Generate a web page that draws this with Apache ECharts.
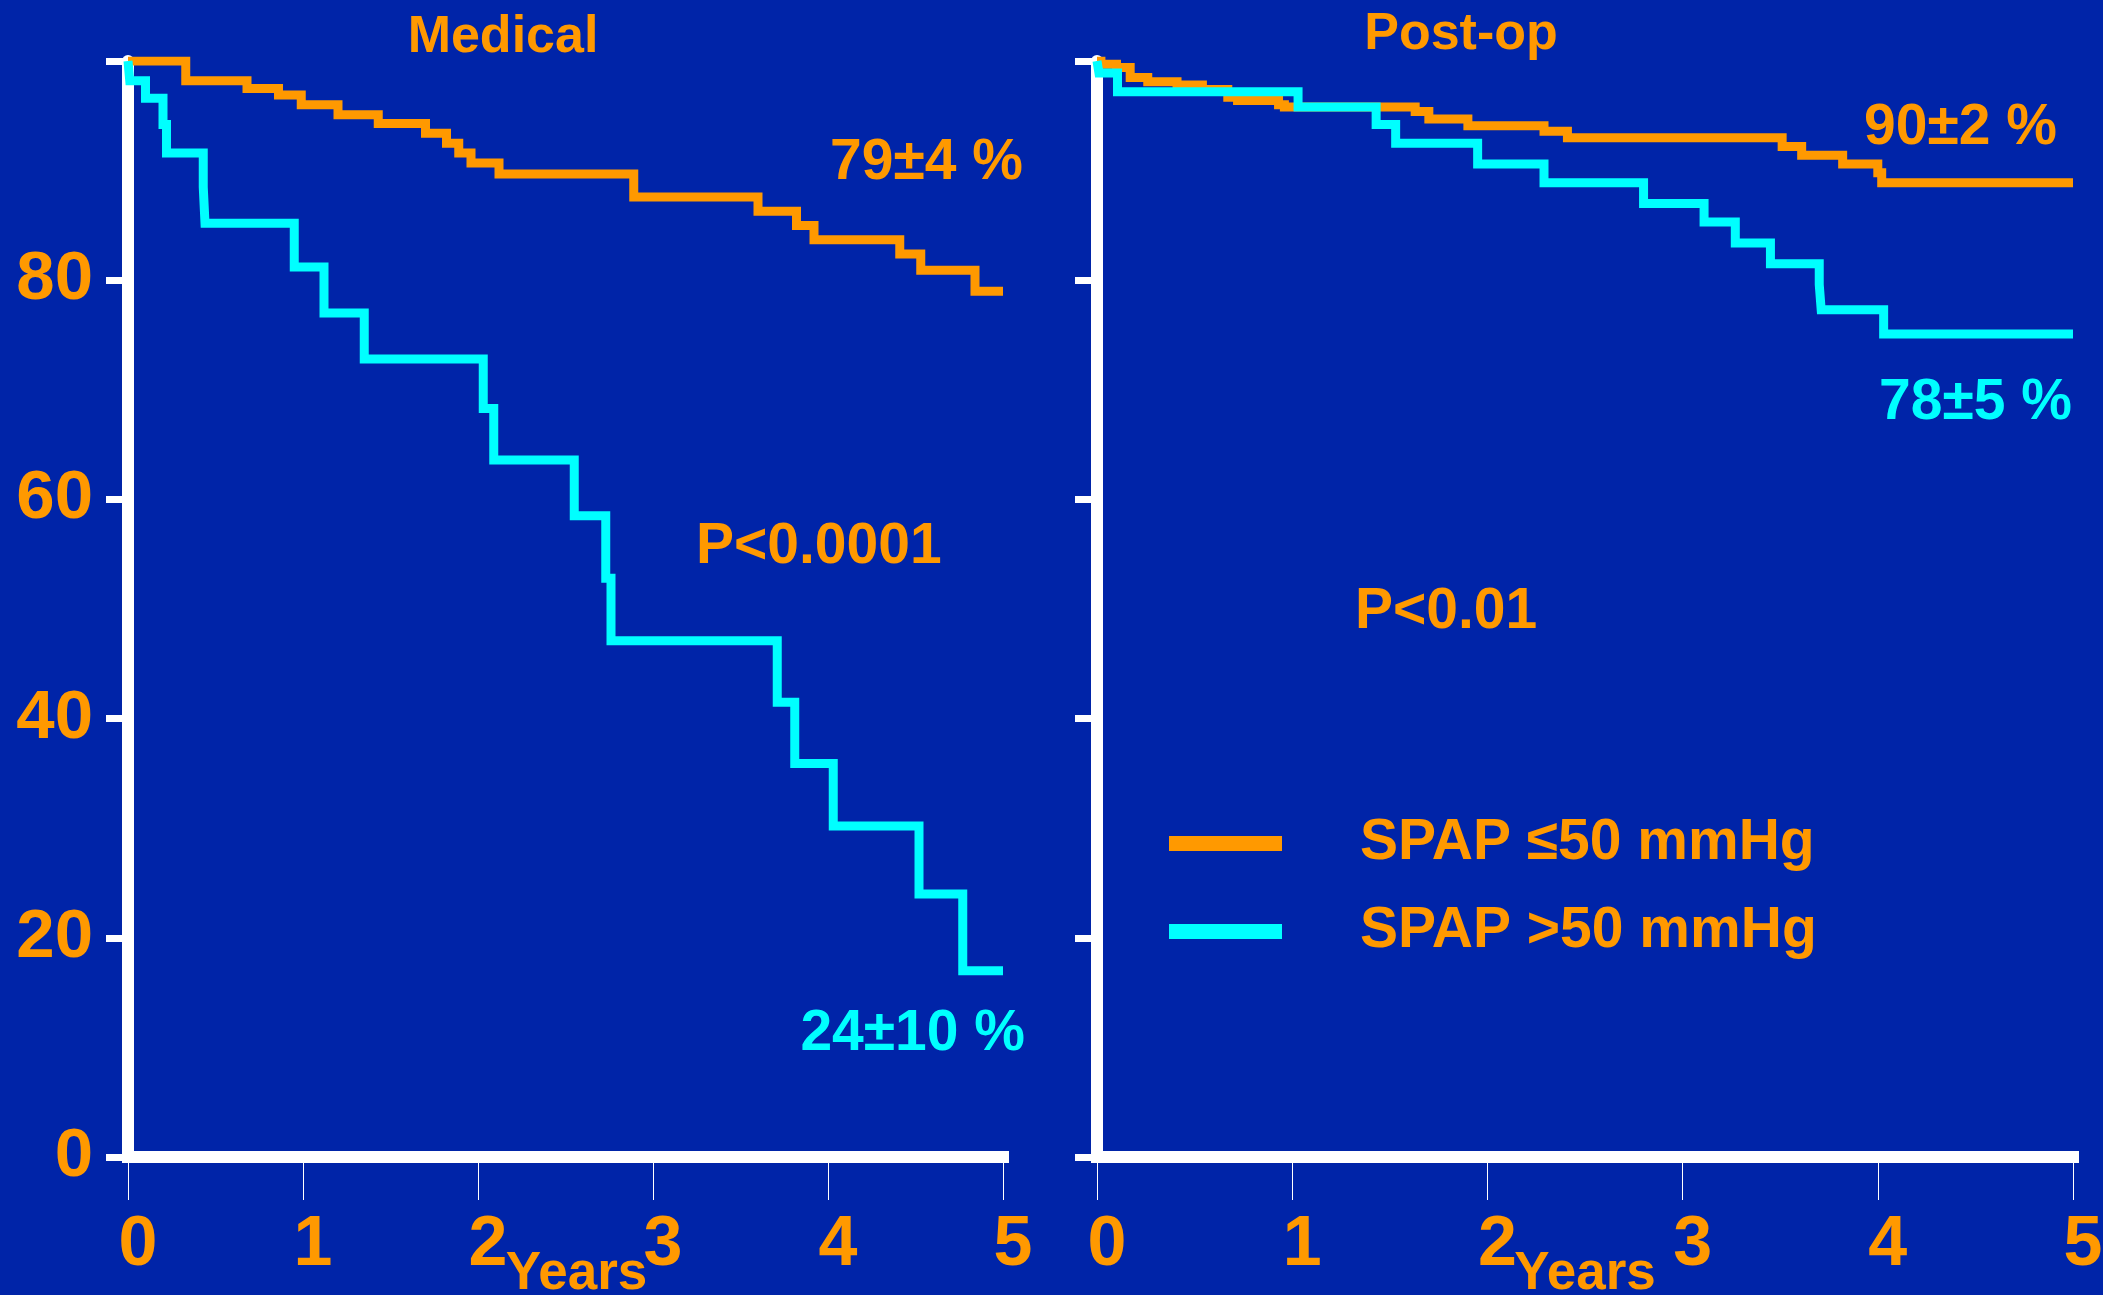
<!DOCTYPE html>
<html>
<head>
<meta charset="utf-8">
<script src="https://cdn.jsdelivr.net/npm/echarts@6/dist/echarts.min.js"></script>
<style>
  html, body { margin: 0; padding: 0; background: #0024A8; }
  #chart { width: 2103px; height: 1295px; }
</style>
</head>
<body>
<div id="chart"></div>
<script>
// Kaplan-Meier survival by systolic pulmonary artery pressure, medical vs post-op
const panelTitles = ['Medical', 'Post-op'];
const groupNames = ['SPAP ≤50 mmHg', 'SPAP >50 mmHg'];
const yearTicks = [0, 1, 2, 3, 4, 5];
const survivalTicks = [0, 20, 40, 60, 80, 100];

// [years, survival %] at each event time
const medicalLow = [
  [0, 100], [0.33, 98.2], [0.68, 97.5], [0.86, 96.9], [0.99, 96.0], [1.20, 95.1],
  [1.43, 94.3], [1.70, 93.4], [1.82, 92.5], [1.89, 91.6], [1.96, 90.7], [2.12, 89.7],
  [2.89, 87.6], [3.60, 86.3], [3.82, 85.0], [3.92, 83.7], [4.41, 82.4], [4.53, 80.9],
  [4.84, 79.0], [5, 79.0]
];
const medicalHigh = [
  [0, 100], [0.01, 98.2], [0.10, 96.6], [0.20, 94.2], [0.22, 91.6], [0.43, 88.5],
  [0.44, 85.2], [0.95, 81.2], [1.12, 77.0], [1.35, 72.8], [2.03, 68.3], [2.09, 63.6],
  [2.55, 58.5], [2.73, 52.8], [2.76, 47.1], [3.71, 41.5], [3.81, 35.9], [4.03, 30.2],
  [4.52, 24.0], [4.77, 17.0], [5, 17.0]
];
const postopLow = [
  [0, 100], [0.02, 99.7], [0.10, 99.4], [0.17, 98.5], [0.26, 98.1], [0.41, 97.8],
  [0.54, 97.4], [0.67, 96.7], [0.72, 96.4], [0.93, 96.0], [0.96, 95.8], [1.63, 95.4],
  [1.70, 94.7], [1.90, 94.1], [2.29, 93.6], [2.41, 93.0], [3.51, 92.2], [3.61, 91.4],
  [3.82, 90.6], [4.00, 89.8], [4.02, 88.9], [5, 88.9]
];
const postopHigh = [
  [0, 100], [0.01, 98.9], [0.105, 97.2], [1.03, 95.8], [1.43, 94.2], [1.53, 92.5],
  [1.95, 90.6], [2.29, 88.9], [2.80, 87.0], [3.11, 85.3], [3.27, 83.4], [3.45, 81.5],
  [3.70, 79.6], [3.71, 77.3], [4.03, 75.1], [5, 75.1]
];

const ORANGE = '#FF9900';
const CYAN = '#00FFFF';
const WHITE = '#FFFFFF';
const FONT = '"Liberation Sans", Arial, Helvetica, sans-serif';

function xAxisFor(gridIndex, namePadLeft) {
  return {
    type: 'value', gridIndex: gridIndex,
    min: yearTicks[0], max: yearTicks[yearTicks.length - 1], interval: 1,
    name: 'Years', nameLocation: 'middle', nameGap: 91, nameMoveOverlap: false,
    nameTextStyle: { color: ORANGE, fontSize: 53, fontWeight: 'bold', fontFamily: FONT,
                     padding: [0, 0, 0, namePadLeft] },
    axisLine: { show: true, lineStyle: { color: WHITE, width: 12, cap: 'square' } },
    axisTick: { show: true, length: 43, lineStyle: { color: WHITE, width: 1 } },
    axisLabel: { color: ORANGE, fontSize: 70, fontWeight: 'bold', fontFamily: FONT,
                 margin: 54, padding: [0, 0, 0, 20] },
    splitLine: { show: false }
  };
}

function yAxisFor(gridIndex, withLabels) {
  return {
    type: 'value', gridIndex: gridIndex,
    min: survivalTicks[0], max: survivalTicks[survivalTicks.length - 1], interval: 20,
    axisLine: { show: true, lineStyle: { color: WHITE, width: 12 } },
    axisTick: { show: true, length: 22, lineStyle: { color: WHITE, width: 7 } },
    axisLabel: {
      show: withLabels, color: ORANGE, fontSize: 69, fontWeight: 'bold', fontFamily: FONT,
      margin: 35, formatter: v => (v === 100 ? '' : String(v))
    },
    splitLine: { show: false }
  };
}

function curve(name, data, color, idx) {
  return {
    type: 'line', name: name, data: data, step: 'end',
    xAxisIndex: idx, yAxisIndex: idx,
    symbol: 'none', showSymbol: false,
    itemStyle: { color: color },
    lineStyle: { color: color, width: 9, join: 'miter', cap: 'butt' },
    emphasis: { disabled: true }
  };
}

function note(text, x, y, color, align, size) {
  return {
    type: 'text', x: x, y: y, silent: true,
    style: { text: text, fill: color, align: align, verticalAlign: 'middle',
             font: 'bold ' + size + 'px ' + FONT }
  };
}

const chart = echarts.init(document.getElementById('chart'), null, { renderer: 'canvas' });
chart.setOption({
  backgroundColor: '#0024A8',
  animation: false,
  grid: [
    { left: 128, top: 61, width: 875, height: 1096, outerBoundsMode: 'none', containLabel: false },
    { left: 1097, top: 61, width: 976, height: 1096, outerBoundsMode: 'none', containLabel: false }
  ],
  xAxis: [xAxisFor(0, 22), xAxisFor(1, 0)],
  yAxis: [yAxisFor(0, true), yAxisFor(1, false)],
  legend: {
    orient: 'vertical', left: 1164, top: 810,
    itemWidth: 113, itemHeight: 15, itemGap: 31, icon: 'rect',
    data: groupNames,
    textStyle: { color: ORANGE, fontSize: 57, fontWeight: 'bold', fontFamily: FONT,
                 padding: [0, 0, 0, 73] }
  },
  series: [
    curve(groupNames[0], medicalLow, ORANGE, 0),
    curve(groupNames[1], medicalHigh, CYAN, 0),
    curve(groupNames[0], postopLow, ORANGE, 1),
    curve(groupNames[1], postopHigh, CYAN, 1)
  ],
  graphic: [
    note(panelTitles[0], 503, 38, ORANGE, 'center', 52),
    note(panelTitles[1], 1461, 35, ORANGE, 'center', 52),
    note('79±4 %', 1023, 163, ORANGE, 'right', 57),
    note('P<0.0001', 696, 547, ORANGE, 'left', 57),
    note('24±10 %', 1025, 1034, CYAN, 'right', 57),
    note('90±2 %', 2057, 128, ORANGE, 'right', 57),
    note('78±5 %', 2072, 403, CYAN, 'right', 57),
    note('P<0.01', 1355, 612, ORANGE, 'left', 57)
  ]
});
</script>
</body>
</html>
